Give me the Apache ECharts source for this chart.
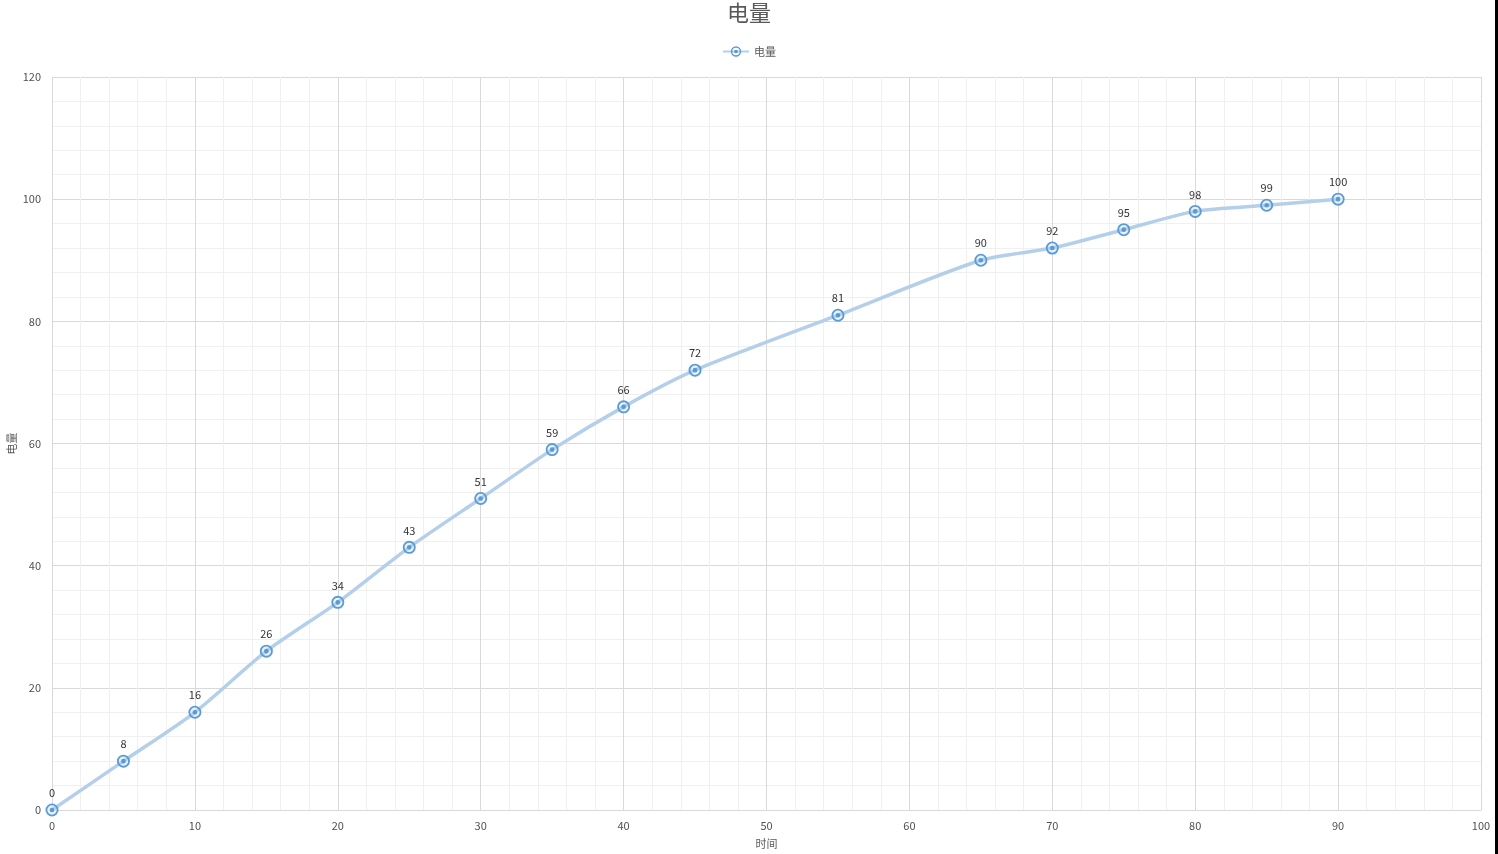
<!DOCTYPE html>
<html><head><meta charset="utf-8">
<script src="https://cdn.jsdelivr.net/npm/echarts@6/dist/echarts.min.js"></script>
<style>
html,body{margin:0;padding:0;background:#fff;}
#c{width:1498px;height:854px;}
#edge{position:absolute;right:0;top:0;width:3px;height:854px;background:#000;}
</style></head>
<body><div id="c"></div><div id="edge"></div>
<script>
const titleText = '电量';
const seriesName = '电量';
const xName = '时间';
const yName = '电量';
const times = [0, 5, 10, 15, 20, 25, 30, 35, 40, 45, 55, 65, 70, 75, 80, 85, 90];
const charge = [0, 8, 16, 26, 34, 43, 51, 59, 66, 72, 81, 90, 92, 95, 98, 99, 100];

const marker = 'path://M10,0 A10,10 0 1,1 -10,0 A10,10 0 1,1 10,0 Z M7.2,0 A7.2,7.2 0 1,0 -7.2,0 A7.2,7.2 0 1,0 7.2,0 Z M3.6,0 A3.6,3.6 0 1,1 -3.6,0 A3.6,3.6 0 1,1 3.6,0 Z';
const font = '"Noto Sans CJK SC", "Noto Sans", sans-serif';
const data = times.map((t, i) => [t, charge[i]]);

const chart = echarts.init(document.getElementById('c'), null, {renderer: 'canvas'});
chart.setOption({
  animation: false,
  backgroundColor: '#fff',
  textStyle: {fontFamily: font},
  title: {
    text: titleText, left: 'center', top: -3,
    textStyle: {fontSize: 22, fontWeight: 'normal', color: '#595959', fontFamily: font}
  },
  legend: {
    top: 41, left: 'center', itemWidth: 26, itemHeight: 13, itemGap: 4,
    textStyle: {fontSize: 11, color: '#595959'},
    data: [seriesName]
  },
  grid: {left: 52, right: 17, top: 77, bottom: 44, containLabel: false, outerBoundsMode: 'none'},
  xAxis: {
    type: 'value', min: 0, max: 100, interval: 10,
    name: xName, nameLocation: 'middle', nameGap: 28,
    nameTextStyle: {fontSize: 11, color: '#595959'},
    axisLine: {show: true, lineStyle: {color: '#D9D9D9', width: 1}},
    axisTick: {show: false},
    axisLabel: {fontSize: 11, color: '#505050', margin: 10},
    splitLine: {show: true, lineStyle: {color: '#D9D9D9', width: 1}},
    minorTick: {show: false, splitNumber: 5},
    minorSplitLine: {show: true, lineStyle: {color: '#F0F0F0', width: 1}}
  },
  yAxis: {
    type: 'value', min: 0, max: 120, interval: 20,
    name: yName, nameLocation: 'middle', nameGap: 35, nameRotate: 90,
    nameMoveOverlap: false,
    nameTextStyle: {fontSize: 11, color: '#595959'},
    axisLine: {show: false},
    axisTick: {show: false},
    axisLabel: {fontSize: 11, color: '#505050', margin: 11},
    splitLine: {show: true, lineStyle: {color: '#D9D9D9', width: 1}},
    minorTick: {show: false, splitNumber: 5},
    minorSplitLine: {show: true, lineStyle: {color: '#F0F0F0', width: 1}}
  },
  series: [{
    name: seriesName, type: 'line', smooth: 0.25,
    data: data,
    symbol: marker, symbolSize: 13,
    itemStyle: {color: '#5B9BD5'},
    lineStyle: {color: '#B4CFEA', width: 3.5},
    label: {show: true, position: 'top', distance: 5, fontSize: 11, color: '#333333'},
    z: 3
  }, {
    name: 'bg', type: 'scatter', data: data, symbol: 'circle', symbolSize: 10,
    itemStyle: {color: '#E4EEF8'}, silent: true, z: 2,
    label: {show: false}
  }]
});
</script></body></html>
